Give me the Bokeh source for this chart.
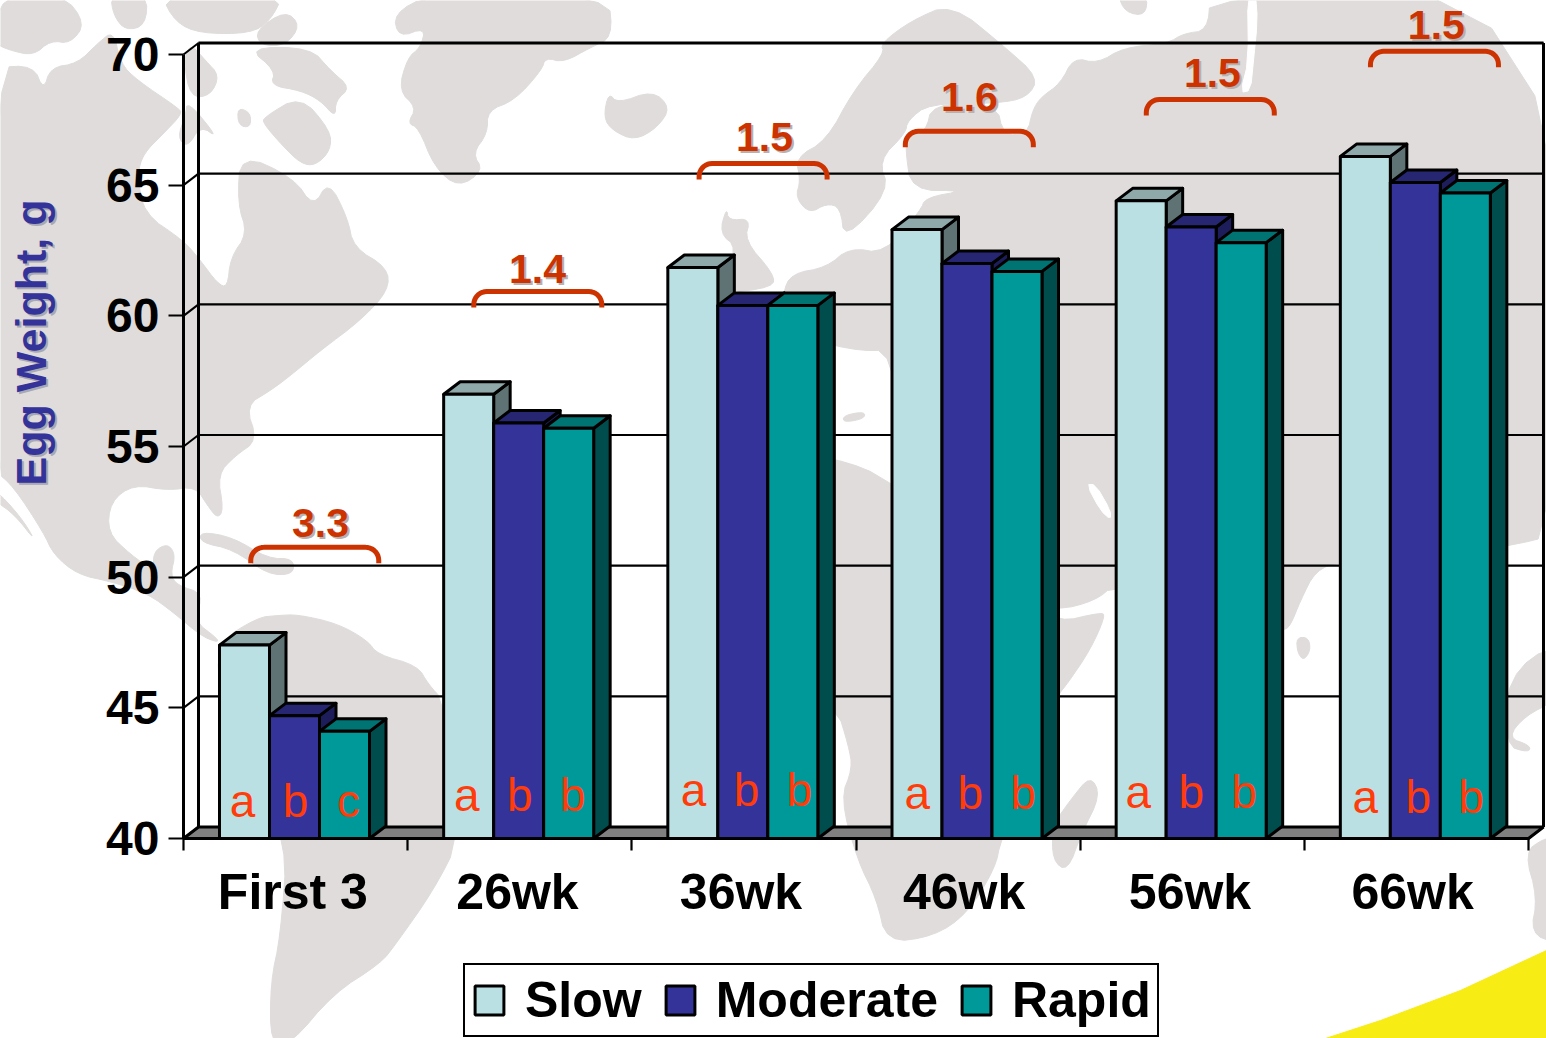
import numpy as np
from bokeh.core.properties import value
from bokeh.embed import file_html
from bokeh.models import FixedTicker, Legend, LegendItem, LinearAxis, Range1d
from bokeh.plotting import figure
from bokeh.resources import INLINE

# ---- chart data -------------------------------------------------------------
categories = ["First 3", "26wk", "36wk", "46wk", "56wk", "66wk"]
slow = [47.4, 57.0, 61.85, 63.3, 64.4, 66.1]
moderate = [44.7, 55.9, 60.4, 62.0, 63.4, 65.1]
rapid = [44.1, 55.7, 60.4, 61.7, 62.8, 64.7]
y_ticks = [40, 45, 50, 55, 60, 65, 70]
letters_slow = ["a", "a", "a", "a", "a", "a"]
letters_moderate = ["b", "b", "b", "b", "b", "b"]
letters_rapid = ["c", "b", "b", "b", "b", "b"]
letter_level = [41.45, 41.68, 41.85, 41.73, 41.77, 41.57]
letter_shift = [0.0, 0.0, 0.012, 0.01, -0.004, 0.009]
differences = ["3.3", "1.4", "1.5", "1.6", "1.5", "1.5"]
bracket_level = [51.14, 60.93, 65.83, 67.06, 68.28, 70.12]
bracket_left = [0.30, 1.295, 2.30, 3.22, 4.295, 5.295]
difference_x = [0.611, 1.579, 2.592, 3.506, 4.59, 5.589]
difference_level = [52.09, 61.81, 66.83, 68.36, 69.28, 71.11]
label_x = [0.488, 1.49, 2.487, 3.482, 4.49, 5.483]

# ---- background map outlines (page pixels) ----------------------------------
land = [
    [(0,-6),(63,-6),(85,23),(70,43),(50,40),(33,55),(10,50),(-6,43)],
    [(110,-6),(147,-6),(145,25),(125,30),(113,15)],
    [(160,-6),(283,-6),(270,20),(250,33),(200,33),(175,22)],
    [(255,30),(285,10),(300,25),(285,45),(260,45)],
    [(190,43),(205,60),(219,75),(210,95),(190,97),(183,60)],
    [(187,100),(218,138),(200,125),(187,147),(177,137),(185,115)],
    [(237,107),(250,112),(250,127),(238,125)],
    [(263,117),(300,95),(330,130),(330,150),(315,165),(300,163),(280,143),(263,123)],
    [(247,47),(310,47),(330,70),(350,87),(335,100),(335,117),(320,100),(300,90),(270,85),(275,70)],
    # North + Central America
    [(-6,67),(33,65),(43,90),(50,67),(77,63),(97,43),(113,30),(120,63),(137,80),(177,107),(182,113),
     (163,133),(143,153),(137,173),(143,213),(183,240),(200,260),(217,283),(227,287),(230,257),
     (247,233),(237,203),(240,153),(293,177),(313,207),(328,180),(347,217),(353,247),(387,267),
     (388,290),(360,320),(320,350),(290,375),(270,390),(245,405),(257,440),(235,455),(217,474),
     (223,509),(217,518),(207,505),(195,486),(167,490),(133,484),(110,501),(107,532),(130,554),
     (153,570),(153,551),(167,543),(175,554),(170,574),(177,585),(203,593),(193,620),(217,638),
     (217,642),(200,635),(173,612),(147,593),(110,581),(77,574),(53,554),(43,532),(13,486),(-6,470)],
    [(-6,488),(20,516),(36,542),(14,514),(-6,500)],
    [(200,531),(233,537),(267,558),(293,558),(293,574),(267,574),(233,549),(200,542)],
    # South America
    [(217,642),(257,617),(277,615),(297,614),(337,623),(367,640),(377,654),(417,665),(428,684),
     (443,700),(460,837),(433,890),(395,944),(380,963),(333,993),(290,1044),(270,1044),(270,982),
     (280,936),(287,840),(250,780),(219,700)],
    # Greenland
    [(393,13),(429,-6),(608,-6),(612,37),(590,47),(563,62),(545,57),(541,70),(514,100),(487,110),
     (487,133),(472,153),(483,170),(458,187),(434,167),(418,127),(407,123),(416,107),(398,90),
     (407,57),(420,47),(425,27),(398,37)],
    [(603,117),(608,92),(617,103),(652,90),(670,107),(657,127),(634,140),(612,130)],
    [(726,207),(728,220),(750,218),(744,240),(773,273),(773,287),(719,293),(737,247),(719,233)],
    # Scandinavia
    [(951,3),(1005,47),(1038,77),(1027,97),(996,103),(929,103),(907,120),(905,133),(878,160),
     (889,190),(844,240),(840,207),(826,203),(809,213),(795,197),(800,180),(795,157),(826,140),
     (853,90),(884,53),(880,43),(911,20)],
    # Eurasia
    [(1556,-6),(1556,534),(1507,546),(1400,560),(1340,561),(1315,570),(1300,600),(1290,625),
     (1283,630),(1230,640),(1200,610),(1114,584),(1095,600),(1057,610),(1000,600),(895,480),
     (895,350),(850,350),(782,330),(782,293),(791,273),(826,267),(849,247),(884,253),(920,210),(925,197),
     (965,190),(911,190),(905,150),(907,135),(925,132),(932,103),(996,103),(1003,135),(1027,133),
     (1032,110),(1040,97),(1060,83),(1073,57),(1097,63),(1123,47),(1167,43),(1183,33),(1207,30),(1210,-6)],
    # Africa
    [(835,457),(890,479),(1040,600),(1057,622),(1100,612),(1105,615),(1090,649),(1067,683),
     (1057,695),(1040,740),(1000,840),(995,867),(967,913),(933,936),(886,942),(876,898),(857,860),
     (840,798),(852,768),(848,745),(836,706),(740,640),(700,600),(690,490),(760,450)],
    [(1090,775),(1100,795),(1081,833),(1067,871),(1052,860),(1052,825),(1071,798)],
    [(1296,637),(1308,637),(1310,650),(1303,660),(1297,652)],
    [(1507,676),(1556,640),(1556,700),(1525,715),(1507,737),(1530,745),(1528,752),(1505,745)],
    [(1524,852),(1543,838),(1556,838),(1556,943),(1530,933),(1537,897)],
    [(1117,-6),(1147,-6),(1145,15),(1125,12)],
    [(843,415),(864,411),(864,418),(843,422)],
]
white_gaps = [
    [(1086,484),(1095,484),(1110,510),(1110,519),(1100,510)],
    [(1247,-6),(1255,-6),(1257,20),(1253,60),(1250,90),(1240,92),(1248,60)],
]
sun = [(1546,950),(1460,990),(1380,1020),(1325,1038),(1546,1038)]


def rounded(outline, passes=2):
    pts = np.array(outline, dtype=float)
    for _ in range(passes):
        nxt = np.roll(pts, -1, axis=0)
        pts = np.column_stack([0.75 * pts + 0.25 * nxt, 0.25 * pts + 0.75 * nxt]).reshape(-1, 2)
    return pts[:, 0].tolist(), pts[:, 1].tolist()


# ---- page mapping -----------------------------------------------------------
W, H = 1546, 1038
Y40, Y70 = 838.0, 54.0
X0, X6 = 183.0, 1528.0
per_value = (Y40 - Y70) / 30.0
per_cat = (X6 - X0) / 6.0

p = figure(width=W, height=H, output_backend="svg", toolbar_location=None,
           x_range=Range1d(0, W), y_range=Range1d(H, 0),
           min_border=0, outline_line_color=None, background_fill_color="white",
           border_fill_color="white", x_axis_type=None, y_axis_type=None)
p.grid.visible = False
p.extra_x_ranges["cat"] = Range1d(-X0 / per_cat, (W - X0) / per_cat)
p.extra_y_ranges["val"] = Range1d(40 + (Y40 - H) / per_value, 40 + Y40 / per_value)
cv = dict(x_range_name="cat", y_range_name="val")

# background map
LAND = "#DFDCDB"
shapes = [rounded(s) for s in land]
p.patches([s[0] for s in shapes], [s[1] for s in shapes],
          fill_color=LAND, line_color=LAND, line_width=1, line_join="round")
gaps = [rounded(s, 1) for s in white_gaps]
p.patches([s[0] for s in gaps], [s[1] for s in gaps],
          fill_color="white", line_color="white", line_width=1)
p.patch([a for a, _ in sun], [b for _, b in sun], fill_color="#F7EC13", line_color="#F7EC13")

# 3-D walls, floor, gridlines
wdx = 15.0 / per_cat
wdy = 11.5 / per_value
p.patch([0, wdx, 6 + wdx, 6], [40, 40 + wdy, 40 + wdy, 40], fill_color="#808080",
        line_color="black", line_width=3, **cv)
p.multi_line([[wdx, 6 + wdx] for _ in y_ticks], [[t + wdy, t + wdy] for t in y_ticks],
             line_color="black", line_width=2.2, **cv)
p.multi_line([[0, wdx] for _ in y_ticks], [[t, t + wdy] for t in y_ticks],
             line_color="black", line_width=2, **cv)
p.multi_line([[wdx, wdx], [6 + wdx, 6 + wdx]], [[40 + wdy, 70 + wdy]] * 2,
             line_color="black", line_width=3, **cv)
p.line([wdx, 6 + wdx], [70 + wdy, 70 + wdy], line_color="black", line_width=3, **cv)
p.multi_line([[6, 6 + wdx]], [[40, 40 + wdy]], line_color="black", line_width=2, **cv)

# bars
bar_w = 50.0 / per_cat
bar_start = 36.0 / per_cat
bdx = 16.5 / per_cat
bdy = 12.5 / per_value
series = [("Slow", slow, "#BBE0E3", "#8FA8AA", "#5F7374"),
          ("Moderate", moderate, "#333399", "#262673", "#1D1D5C"),
          ("Rapid", rapid, "#009999", "#007373", "#004D4D")]
legend_items = []
for k, (name, vals, front, top, side) in enumerate(series):
    left = np.arange(6) + bar_start + k * bar_w
    right = left + bar_w
    tops = np.array(vals, dtype=float)
    p.patches([[r, r + bdx, r + bdx, r] for r in right],
              [[40, 40 + bdy, t + bdy, t] for t in tops],
              fill_color=side, line_color="black", line_width=3, line_join="round", **cv)
    p.patches([[l, l + bdx, r + bdx, r] for l, r in zip(left, right)],
              [[t, t + bdy, t + bdy, t] for t in tops],
              fill_color=top, line_color="black", line_width=3, line_join="round", **cv)
    q = p.quad(left=left, right=right, bottom=40, top=tops, fill_color=front,
               line_color="black", line_width=3, **cv)
    legend_items.append(LegendItem(label=name, renderers=[q]))

# significance letters
LET = "#FF3C0A"
for off, letters in zip((59, 112, 165), (letters_slow, letters_moderate, letters_rapid)):
    p.text(np.arange(6) + np.array(letter_shift) + off / per_cat, letter_level, text=letters,
           text_color=LET, text_font=value("Liberation Sans"), text_font_size="46px",
           text_align="center", text_baseline="middle", **cv)

# brackets with difference labels
BR = "#CC3300"
span = 128.0 / per_cat
rise = 16.0 / per_value
rx = 13.0 / per_cat
ry = 13.0 / per_value
th = np.linspace(0, np.pi / 2, 10)
for lft, lvl in zip(bracket_left, bracket_level):
    xs = np.concatenate([[lft], lft + rx - rx * np.cos(th), lft + span - rx + rx * np.sin(th), [lft + span]])
    ys = np.concatenate([[lvl - rise], lvl - ry + ry * np.sin(th), lvl - ry + ry * np.cos(th), [lvl - rise]])
    p.line(xs, ys, line_color=BR, line_width=5, **cv)
shadow = dict(text_font=value("Liberation Sans"), text_font_style="bold", text_font_size="41px",
              text_align="center", text_baseline="middle")
p.text(difference_x, difference_level, text=differences, text_color="#B5B2B0", x_offset=2, y_offset=2, **shadow, **cv)
p.text(difference_x, difference_level, text=differences, text_color=BR, **shadow, **cv)

# axis title
title = dict(text_font=value("Liberation Sans"), text_font_style="bold", text_font_size="43px",
             text_align="center", text_baseline="middle", angle=np.pi / 2)
p.text([32], [344], text=["Egg Weight, g"], text_color="#A9A9B5", **title)
p.text([30], [342], text=["Egg Weight, g"], text_color="#333399", **title)

# axes
yax = LinearAxis(y_range_name="val", fixed_location=X0, ticker=FixedTicker(ticks=y_ticks),
                 bounds=(40, 70), axis_line_width=3, axis_line_color="black",
                 major_tick_line_width=2.2, major_tick_line_color="black", major_tick_out=15,
                 major_tick_in=0, minor_tick_line_color=None, major_label_standoff=9,
                 major_label_text_font="Liberation Sans", major_label_text_font_style="bold",
                 major_label_text_font_size="48px", major_label_text_color="black")
p.add_layout(yax, "left")

tick_ax = LinearAxis(x_range_name="cat", fixed_location=Y40, ticker=FixedTicker(ticks=list(range(7))),
                     bounds=(0, 6), axis_line_width=3, axis_line_color="black",
                     major_tick_line_width=2.2, major_tick_line_color="black", major_tick_out=12,
                     major_tick_in=0, minor_tick_line_color=None,
                     major_label_text_font_size="0px", major_label_text_color=None)
p.add_layout(tick_ax, "below")
lab_ax = LinearAxis(x_range_name="cat", fixed_location=Y40,
                    ticker=FixedTicker(ticks=label_x),
                    axis_line_color=None, major_tick_line_color=None, minor_tick_line_color=None,
                    major_label_overrides={x: c for x, c in zip(label_x, categories)},
                    major_label_standoff=19,
                    major_label_text_font="Liberation Sans", major_label_text_font_style="bold",
                    major_label_text_font_size="50px", major_label_text_color="black")
p.add_layout(lab_ax, "below")

legend = Legend(items=legend_items, orientation="horizontal", location=(463, 1),
                margin=0, padding=6, spacing=20, label_standoff=18, glyph_width=36, glyph_height=36,
                label_text_font="Liberation Sans", label_text_font_style="bold",
                label_text_font_size="50px", label_text_color="black",
                border_line_color="black", border_line_width=2.5, border_line_alpha=1.0,
                background_fill_color="white", background_fill_alpha=1.0)
p.add_layout(legend)

open("out.html", "w").write(file_html(p, INLINE))
